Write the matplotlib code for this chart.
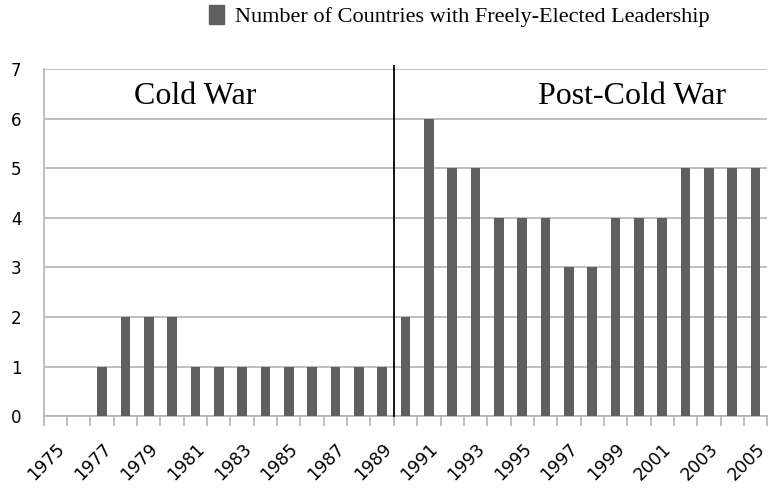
import numpy as np
import matplotlib.pyplot as plt
from matplotlib.patches import Patch

# Data
years = np.arange(1975, 2006)
counts = [0, 0, 1, 2, 2, 2, 1, 1, 1, 1, 1, 1, 1, 1, 1,
          2, 6, 5, 5, 4, 4, 4, 3, 3, 4, 4, 4, 5, 5, 5, 5]
label_years = np.arange(1975, 2006, 2)
series_name = 'Number of Countries with Freely-Elected Leadership'

bar_color = '#5f5f5f'
grid_color = '#b4b4b4'

fig = plt.figure(figsize=(7.68, 4.93), dpi=100)
ax = fig.add_axes([0.057, 0.156, 0.942, 0.704])

ax.bar(years, counts, width=0.42, color=bar_color, zorder=3)

ax.set_xlim(1974.5, 2005.5)
ax.set_ylim(0, 7)
ax.set_yticks(range(0, 8))
ax.yaxis.grid(True, color=grid_color, linewidth=1.2, zorder=0)

# tick marks at category boundaries, labels every other year
ax.set_xticks(np.arange(1974.5, 2006, 1), minor=True)
ax.set_xticks(label_years)
ax.set_xticklabels([str(y) for y in label_years], rotation=45, ha='right',
                   rotation_mode='anchor', fontsize=12.5, family='DejaVu Sans')
ax.tick_params(axis='x', which='major', length=0, pad=17)
ax.tick_params(axis='x', which='minor', length=7, color=grid_color, width=1.2)
ax.tick_params(axis='y', length=0, labelsize=12, pad=16)
for lbl in ax.get_yticklabels():
    lbl.set_family('DejaVu Sans')

for s in ['top', 'right']:
    ax.spines[s].set_visible(False)
ax.spines['left'].set_color(grid_color)
ax.spines['bottom'].set_color(grid_color)
ax.spines['left'].set_linewidth(1.2)
ax.spines['bottom'].set_linewidth(1.2)

# divider between the eras
ax.axvline(1989.5, ymin=0, ymax=1.01, color='black', linewidth=1.3, zorder=4, clip_on=False)
ax.text(1981, 6.45, 'Cold War', ha='center', va='center', fontsize=23, family='Liberation Serif')
ax.text(1999.7, 6.45, 'Post-Cold War', ha='center', va='center', fontsize=23, family='Liberation Serif')

fig.legend(handles=[Patch(color=bar_color, label=series_name)], loc='upper center',
           bbox_to_anchor=(0.598, 1.03), frameon=False, handlelength=0.7, handleheight=0.9,
           handletextpad=0.5, prop={'family': 'Liberation Serif', 'size': 16})

fig.savefig('out.png', dpi=100)
